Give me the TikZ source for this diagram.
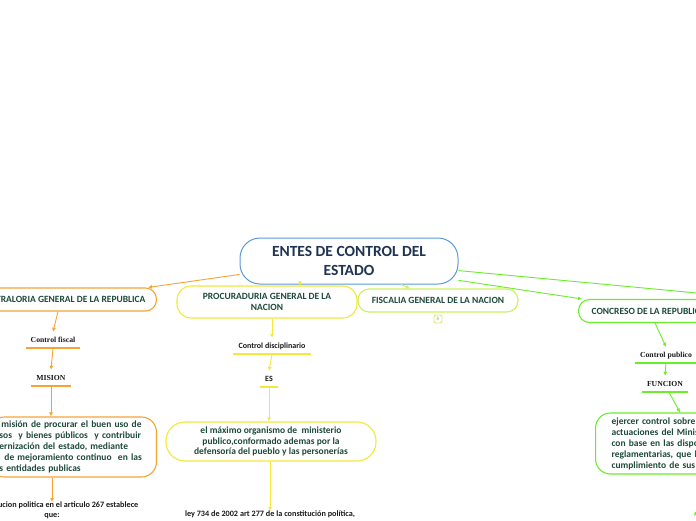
\documentclass[tikz,border=0pt]{standalone}
\usepackage{fontspec}
\setmainfont{Carlito}
\newfontfamily\labelserif{Liberation Serif}
\usetikzlibrary{arrows.meta,calc}
\definecolor{Canvas}{HTML}{FFFFFF}
\definecolor{EnteBlue}{HTML}{5B9BD5}
\definecolor{Naranja}{HTML}{F5A433}
\definecolor{Amarillo}{HTML}{F5E83A}
\definecolor{Lima}{HTML}{CDF25A}
\definecolor{Verde}{HTML}{6AEE2C}
\definecolor{InkGreen}{HTML}{1D4A3A}
\definecolor{InkNavy}{HTML}{1F3352}
\definecolor{Ink}{HTML}{1A1A1A}

\begin{document}
\begin{tikzpicture}[x=1pt,y=-1pt,
 ente/.style={draw=EnteBlue,line width=1pt,rounded corners=20pt,fill=white,text=InkNavy,font=\bfseries\fontsize{15.5}{19}\selectfont,align=center,minimum width=218pt,minimum height=46pt,inner sep=0pt},
 rama/.style={draw=#1,line width=1.1pt,rounded corners=11pt,fill=white,text=InkGreen,font=\bfseries\fontsize{9.5}{11}\selectfont,align=center,minimum height=23pt,inner xsep=11pt,inner ysep=0pt},
 caja/.style={draw=#1,line width=1.1pt,rounded corners=15pt,fill=white,text=InkGreen,font=\bfseries\fontsize{9.5}{11}\selectfont,inner xsep=10pt,inner ysep=0pt},
 etiq/.style={text=Ink,font=\bfseries\fontsize{8}{9}\selectfont,text height=5.5pt,text depth=1.5pt,inner xsep=5pt,inner ysep=4.5pt,append after command={(\tikzlastnode.south west) edge[draw=#1,line width=1.6pt] (\tikzlastnode.south east)}},
 serifx/.style={font=\labelserif\bfseries\fontsize{7.7}{9}\selectfont},
 flecha/.style={draw=#1,line width=0.9pt,-{Latex[length=4pt,width=4pt]}},
 nota/.style={text=Ink,font=\bfseries\fontsize{8.2}{10}\selectfont,align=center,inner sep=0pt}]
\useasboundingbox (0,0) rectangle (696,520);
\clip (0,0) rectangle (696,520);
\fill[Canvas] (0,0) rectangle (696,520);
\node[ente] (ente) at (349,261){ENTES DE CONTROL DEL\\ESTADO};
\node[rama=Naranja,anchor=east] (contra) at (157,299.5){CONTRALORIA GENERAL DE LA REPUBLICA};
\node[rama=Amarillo,minimum width=180pt,minimum height=32pt,rounded corners=14pt] (procu) at (267,302){PROCURADURIA GENERAL DE LA\\NACION};
\node[rama=Lima,minimum width=160pt] (fisca) at (438,300.5){FISCALIA GENERAL DE LA NACION};
\node[draw=Lima,line width=0.8pt,rounded corners=2pt,minimum size=8pt,inner sep=0pt,text=gray,font=\fontsize{5}{5}\selectfont] (fiscanum) at (438,319){5};
\node[rama=Verde,anchor=west,inner xsep=13pt] (congre) at (578,311){CONCRESO DE LA REPUBLICA};
\node[etiq=Naranja,serifx] (cfiscal) at (53,340){Control fiscal};
\node[etiq=Naranja,serifx] (mision) at (51,378){MISION};
\node[caja=Naranja,anchor=east,text width=147pt,align=left,minimum height=60pt] (cmision) at (157,447){\hspace*{2pt}misión de procurar el buen uso de\\sos~ y bienes públicos~ y contribuir\\ernización del estado, mediante\\\hspace*{5pt}de mejoramiento continuo~ en las\\s entidades publicas};
\node[nota,anchor=north] (consti) at (52,502){La constitucion politica en el articulo 267 establece\\que:};
\node[etiq=Amarillo] (cdisc) at (272,346){Control disciplinario};
\node[etiq=Amarillo] (es) at (269,379){ES};
\node[caja=Amarillo,align=center,minimum width=210pt,minimum height=39pt,rounded corners=19pt,font=\bfseries\fontsize{9.5}{10.5}\selectfont] (pcaja) at (271,441.5){el máximo organismo de~ ministerio\\publico,conformado ademas por la\\defensoría del pueblo y las personerías};
\node[nota,anchor=north] (ley) at (270,511){ley 734 de 2002 art 277 de la constitución política,};
\node[etiq=Verde,serifx] (cpub) at (666,355){Control publico};
\node[etiq=Verde,serifx] (funcion) at (665,384){FUNCION};
\node[caja=Verde,anchor=west,text width=160pt,align=left,inner xsep=16pt,minimum height=61pt] (ccaja) at (595,443.5){ejercer control sobre las\\actuaciones del Ministerio\\con base en las disposiciones\\reglamentarias, que la\\cumplimiento de sus};
\coordinate (csig) at (694,516);
\coordinate (fuera) at (800,302.7);
\draw[flecha=Naranja] (ente.187) -- ([xshift=-9pt]contra.north east);
\draw[flecha=Amarillo] ([xshift=-49pt]ente.south) -- ([xshift=33pt]procu.north);
\draw[flecha=Lima] ([xshift=52pt]ente.south) -- ([xshift=-28pt]fisca.north);
\draw[flecha=Verde] (ente.350) -- ([xshift=4pt]congre.north west);
\draw[draw=Verde,line width=0.9pt] (ente.355) -- (fuera);
\draw[flecha=Naranja] ($(cfiscal.north |- contra.south)+(5,0)$) -- (cfiscal.north);
\draw[flecha=Naranja] (cfiscal.south) -- (mision.north);
\draw[flecha=Naranja] (mision.south) -- (mision.south |- cmision.north);
\draw[flecha=Naranja] (consti.north |- cmision.south) -- (consti.north);
\draw[flecha=Amarillo] (cdisc.north |- procu.south) -- (cdisc.north);
\draw[flecha=Amarillo] (cdisc.south) -- (es.north);
\draw[flecha=Amarillo] (es.south) -- (es.south |- pcaja.north);
\draw[flecha=Amarillo] (ley.north |- pcaja.south) -- (ley.north);
\draw[flecha=Verde] ($(cpub.north |- congre.south)+(-11,0)$) -- (cpub.north);
\draw[flecha=Verde] (cpub.south) -- (funcion.north);
\draw[flecha=Verde] ($(funcion.south)+(4,0)$) -- ($(funcion.south |- ccaja.north)+(15,0)$);
\draw[flecha=Verde] ($(ccaja.south)+(30,0)$) -- (csig);
\end{tikzpicture}
\end{document}
